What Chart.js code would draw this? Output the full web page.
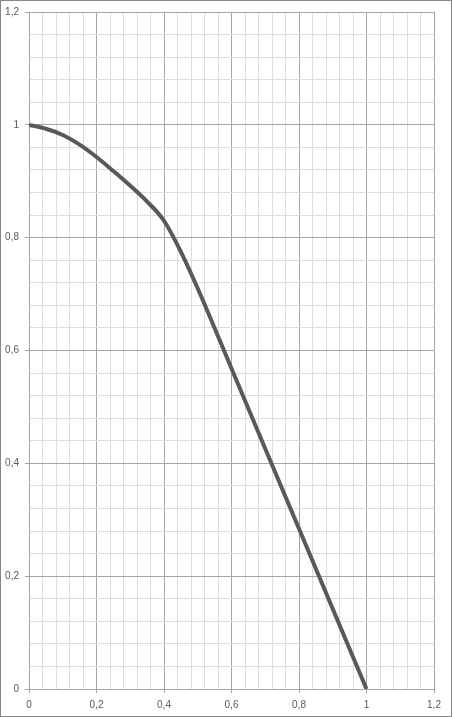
<!DOCTYPE html>
<html>
<head>
<meta charset="utf-8">
<script src="https://cdn.jsdelivr.net/npm/chart.js@4/dist/chart.umd.min.js"></script>
<style>
  html, body { margin: 0; padding: 0; background: #fff; }
  #wrap { width: 452px; height: 717px; }
</style>
</head>
<body>
<div id="wrap"><canvas id="chart" width="452" height="717"></canvas></div>
<script>
// curve
const xValues = [0, 0.05, 0.1, 0.15, 0.2, 0.25, 0.3, 0.35, 0.4, 0.45, 0.5, 0.6, 0.7, 0.8, 0.9, 1.0];
const yValues = [1, 0.993, 0.982, 0.965, 0.943, 0.918, 0.892, 0.864, 0.83, 0.775, 0.71, 0.568, 0.426, 0.284, 0.142, 0];

const axisMin = 0;
const axisMax = 1.2;
const minorStep = 0.04;
const majorStep = 0.2;

function isMajor(v) {
  const r = v / majorStep;
  return Math.abs(r - Math.round(r)) < 1e-6;
}
function fmt(v) {
  return (Math.round(v * 10) / 10).toString().replace('.', ',');
}

const frame = {
  id: 'frame',
  afterDraw(chart) {
    const c = chart.ctx;
    c.save();
    c.strokeStyle = '#868686';
    c.lineWidth = 1;
    c.strokeRect(0.5, 0.5, chart.width - 1, chart.height - 1);
    c.restore();
  }
};

function axisOpts(fitKey, fitVal) {
  return {
    type: 'linear',
    min: axisMin,
    max: axisMax,
    afterFit(scale) { scale[fitKey] = fitVal; },
    ticks: {
      stepSize: minorStep,
      autoSkip: false,
      maxRotation: 0,
      color: '#595959',
      font: { family: 'Liberation Sans', size: 10 },
      padding: 6,
      callback: v => isMajor(v) ? fmt(v) : ''
    },
    grid: {
      color: ctx => isMajor(ctx.tick.value) ? '#a6a6a6' : '#dcdcdc',
      tickColor: ctx => isMajor(ctx.tick.value) ? '#a6a6a6' : 'rgba(0,0,0,0)',
      tickLength: 4,
      lineWidth: 1
    },
    border: { color: '#a6a6a6' }
  };
}

new Chart(document.getElementById('chart'), {
  type: 'line',
  data: {
    datasets: [{
      data: xValues.map((x, i) => ({ x: x, y: yValues[i] })),
      borderColor: '#595959',
      borderWidth: 4,
      pointRadius: 0,
      cubicInterpolationMode: 'monotone',
      fill: false
    }]
  },
  options: {
    responsive: false,
    animation: false,
    layout: { padding: { top: 12, right: 18, left: 0, bottom: 0 } },
    plugins: { legend: { display: false }, tooltip: { enabled: false } },
    scales: {
      x: axisOpts('height', 28),
      y: axisOpts('width', 29)
    }
  },
  plugins: [frame]
});
</script>
</body>
</html>
